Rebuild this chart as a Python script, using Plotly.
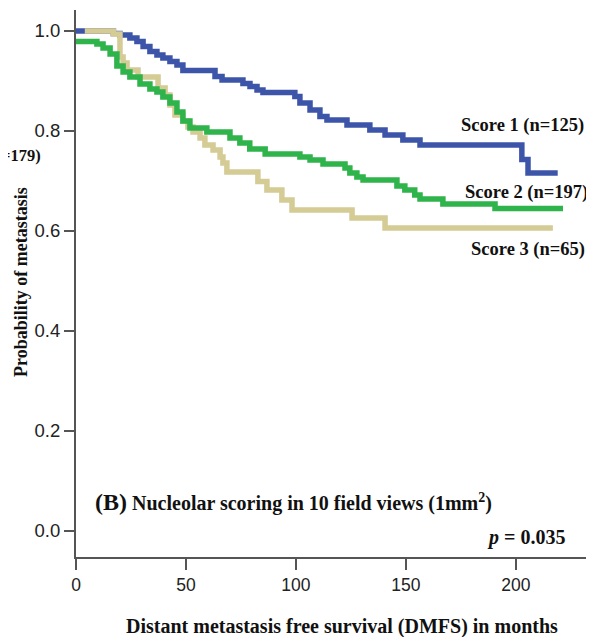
import plotly.graph_objects as go

# Score 1 (blue)
months_s1 = [0, 17, 20, 24.5, 27.7, 30.5, 33.6, 36.8, 39.5, 42.7, 45.9, 48.6, 63.2, 66.4, 75.9, 79.1,
             82.3, 85, 99.5, 101.8, 106.4, 110.9, 114.1, 123.2, 133.6, 140.5, 148.6, 156.4, 202.7, 205.5, 219]
prob_s1 = [1.0, 0.995, 0.992, 0.986, 0.979, 0.969, 0.959, 0.952, 0.946, 0.939, 0.932, 0.921, 0.909, 0.902,
           0.895, 0.889, 0.882, 0.877, 0.869, 0.856, 0.842, 0.829, 0.822, 0.812, 0.802, 0.792, 0.782, 0.772,
           0.743, 0.716, 0.716]

# Score 2 (green)
months_s2 = [0, 9.5, 12.3, 15.5, 18.6, 21.4, 24.5, 29.1, 33.6, 36.8, 39.5, 42.7, 45.9, 48.6, 51.8, 59.5, 70,
             74.5, 79, 86, 101.8, 106.4, 112.3, 122.3, 124.5, 127.7, 130.5, 145.9, 149.5, 154, 156.4, 166.8,
             190.5, 221.4]
prob_s2 = [0.979, 0.974, 0.966, 0.954, 0.93, 0.918, 0.908, 0.894, 0.884, 0.878, 0.868, 0.856, 0.838, 0.82,
           0.806, 0.798, 0.786, 0.776, 0.764, 0.754, 0.748, 0.742, 0.734, 0.726, 0.716, 0.708, 0.702, 0.69,
           0.682, 0.672, 0.664, 0.654, 0.645, 0.645]

# Score 3 (khaki)
months_s3 = [4, 17, 20, 21.4, 23.2, 28.2, 37.3, 40.5, 42.7, 45, 48.6, 50.9, 53.2, 56.4, 58.6, 62.3, 65.5,
             66.8, 68.6, 82.7, 86.8, 93.6, 98.2, 125.5, 140.5, 216.8]
prob_s3 = [1.0, 0.994, 0.948, 0.936, 0.922, 0.908, 0.886, 0.872, 0.852, 0.832, 0.82, 0.808, 0.798, 0.786,
           0.772, 0.762, 0.748, 0.736, 0.718, 0.699, 0.682, 0.662, 0.642, 0.626, 0.606, 0.606]

x_ticks = [0, 50, 100, 150, 200]
y_ticks = [0.0, 0.2, 0.4, 0.6, 0.8, 1.0]
y_tick_labels = ["0.0", "0.2", "0.4", "0.6", "0.8", "1.0"]

SERIF = "Liberation Serif, Times New Roman, serif"
SANS = "Liberation Sans, Arial, sans-serif"

fig = go.Figure()
fig.add_trace(go.Scatter(x=months_s1, y=prob_s1, mode="lines", line=dict(shape="hv", color="#3D55A9", width=5.5)))
fig.add_trace(go.Scatter(x=months_s3, y=prob_s3, mode="lines", line=dict(shape="hv", color="#D4CB95", width=5.5)))
fig.add_trace(go.Scatter(x=months_s2, y=prob_s2, mode="lines", line=dict(shape="hv", color="#2FB34B", width=5.5)))

txt = dict(family=SERIF, size=18.5, color="#111")
ann = [
    dict(x=203, y=0.812, text="<b>Score 1 (n=125)</b>", xanchor="center", yanchor="middle"),
    dict(x=205, y=0.678, text="<b>Score 2 (n=197)</b>", xanchor="center", yanchor="middle"),
    dict(x=205.5, y=0.564, text="<b>Score 3 (n=65)</b>", xanchor="center", yanchor="middle"),
]
annotations = []
for a in ann:
    a.update(xref="x", yref="y", showarrow=False, font=txt)
    annotations.append(a)
annotations.append(dict(x=7.7, y=0.058, xref="x", yref="y", showarrow=False, xanchor="left", yanchor="middle",
                        text="<b><span style='font-size:24px'>(B)</span> Nucleolar scoring in 10 field views (1mm<sup>2</sup>)</b>",
                        font=dict(family=SERIF, size=20, color="#111")))
annotations.append(dict(x=223, y=-0.012, xref="x", yref="y", showarrow=False, xanchor="right", yanchor="middle",
                        text="<b><i>p</i> = 0.035</b>", font=dict(family=SERIF, size=20, color="#111")))
annotations.append(dict(x=-77/518, y=(557-155)/547, xref="paper", yref="paper", showarrow=False,
                        xanchor="left", yanchor="middle", text="<b>=179)</b>",
                        font=dict(family=SERIF, size=16.5, color="#111")))
annotations.append(dict(x=(342-76)/518, y=-(626-557)/547, xref="paper", yref="paper", showarrow=False,
                        xanchor="center", yanchor="middle",
                        text="<b>Distant metastasis free survival (DMFS) in months</b>",
                        font=dict(family=SERIF, size=20, color="#111")))
annotations.append(dict(x=(21-76)/518, y=(557-282)/547, xref="paper", yref="paper", showarrow=False,
                        xanchor="center", yanchor="middle", textangle=-90,
                        text="<b>Probability of metastasis</b>",
                        font=dict(family=SERIF, size=18, color="#111")))

fig.update_layout(
    width=594, height=637,
    margin=dict(l=68, r=8, t=2, b=88),
    paper_bgcolor="white", plot_bgcolor="white",
    showlegend=False,
    annotations=annotations,
    xaxis=dict(range=[0, 235.5], tickvals=x_ticks, ticktext=[str(v) for v in x_ticks],
               showgrid=False, zeroline=False, showline=True, linecolor="#555", linewidth=2,
               ticks="outside", ticklen=11, tickwidth=2, tickcolor="#555",
               tickfont=dict(family=SANS, size=17.5, color="#222")),
    yaxis=dict(range=[-0.052, 1.042], tickvals=y_ticks, ticktext=y_tick_labels,
               showgrid=False, zeroline=False, showline=True, linecolor="#555", linewidth=2,
               ticks="outside", ticklen=10, tickwidth=2, tickcolor="#555",
               tickfont=dict(family=SANS, size=18.5, color="#222")),
)

fig.write_html("out.html")
